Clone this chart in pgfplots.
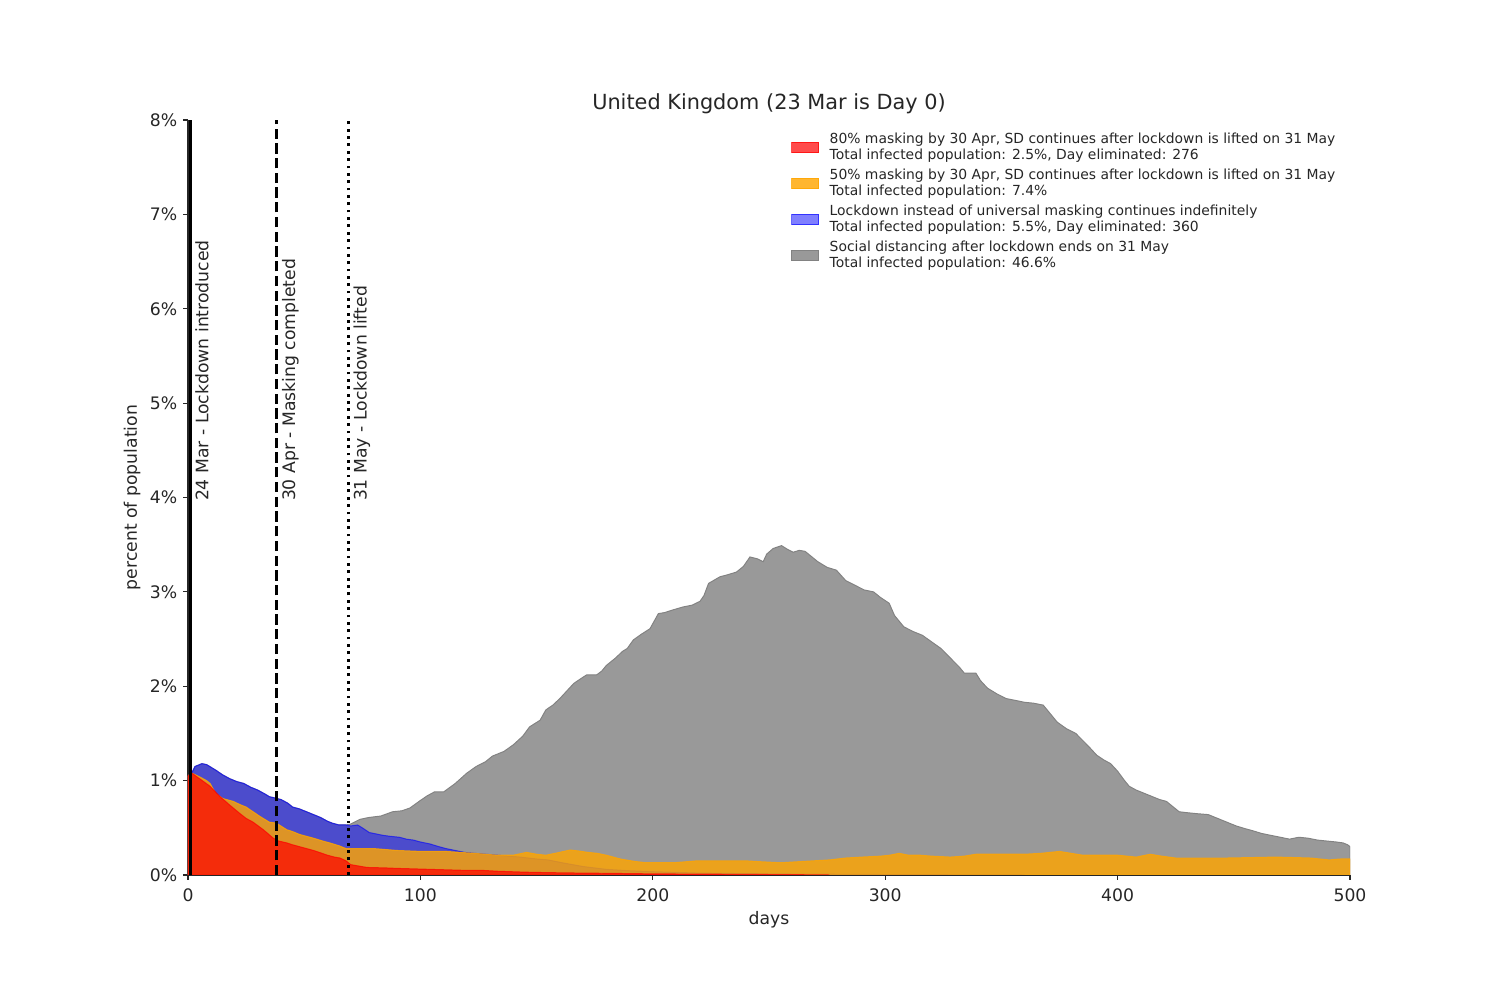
\documentclass[border=0pt]{standalone}
\usepackage{fontspec}
\setmainfont{DejaVu Sans}
\usepackage{pgfplots}
\pgfplotsset{compat=1.18}
\definecolor{txt}{RGB}{38,38,38}
\definecolor{greyfill}{RGB}{153,153,153}
\definecolor{greyedge}{RGB}{130,130,130}
\definecolor{mblue}{RGB}{0,0,255}
\definecolor{morange}{RGB}{255,165,0}
\definecolor{mred}{RGB}{255,0,0}
\begin{document}
\begin{tikzpicture}
\begin{axis}[
  width=836.64pt, height=543.6pt, scale only axis,
  xmin=0, xmax=500, ymin=0, ymax=8,
  axis lines=left, axis line style={-, txt, line width=0.8pt},
  tick style={txt, line width=0.8pt},
  tick align=outside, major tick length=3.5pt,
  xtick={0,100,...,500}, ytick={0,...,8},
  yticklabels={0\%,1\%,2\%,3\%,4\%,5\%,6\%,7\%,8\%},
  ticklabel style={font=\fontsize{12.4}{14}\selectfont, text=txt},
  xticklabel style={yshift=-2.9pt},
  yticklabel style={xshift=-0.7pt},
  /pgf/number format/assume math mode=true,
  xlabel={days}, ylabel={percent of population},
  label style={font=\fontsize{12.4}{14}\selectfont, text=txt},
  title={United Kingdom (23 Mar is Day 0)},
  title style={font=\fontsize{15}{17}\selectfont, text=txt, yshift=-5pt},
  reverse legend,
  legend cell align=left,
  legend image code/.code={\fill[#1] (0pt,-3.9pt) rectangle (19.4pt,3.9pt);},
  legend style={at={(0.5189,0.9828)}, anchor=north west, draw=none, fill=none,
    font=\fontsize{10}{11.5}\selectfont, text=txt, inner sep=0pt, row sep=5.3pt,
    nodes={inner sep=0pt}, cells={align=left},
    /tikz/every odd column/.append style={column sep=7.6pt}},
]
% Social distancing (grey)
\addplot[draw=greyedge, fill=greyfill, line width=0.7pt] coordinates {
(0,1.05) (1.6,1.08) (3,1.15) (6,1.18) (8,1.17) (12,1.11) (15,1.06) (18,1.02) (21,0.99) (24,0.97) (27,0.93) (30,0.90) (33,0.86) (35,0.83) (40,0.80) (43,0.76) (45,0.72) (48,0.70) (51,0.67) (54,0.64) (57,0.61) (60,0.57) (62,0.55) (65,0.53) (68,0.53) (70,0.54)
(74,0.59) (78,0.61) (83,0.625) (88,0.67) (92,0.68) (95.5,0.71) (100,0.79) (103,0.84) (106,0.88) (110,0.88) (115,0.97) (120,1.08) (124,1.15) (128,1.20) (131,1.26) (136,1.31) (140,1.38) (144,1.47) (147,1.57) (151.5,1.64) (154,1.75) (157,1.80) (160,1.87) (163,1.95) (166,2.03) (169,2.08) (171.5,2.12) (175.8,2.12) (178,2.16) (180,2.22) (184,2.30) (187,2.37) (189,2.40) (191.6,2.49) (195,2.55) (198.8,2.61) (202.4,2.77) (205,2.78) (208.8,2.81) (213,2.84) (217,2.86) (220.3,2.90) (222,2.96) (224,3.09) (228.9,3.16) (232,3.18) (236,3.21) (239,3.27) (241.8,3.37) (245,3.35) (247.5,3.32) (249,3.40) (251.8,3.46) (255.4,3.49) (258,3.45) (260.4,3.42) (263,3.44) (265.5,3.43) (268,3.38) (271,3.32) (275,3.26) (279,3.23) (283,3.12) (287,3.07) (291,3.02) (295,3.00) (298,2.94) (301.7,2.88) (304,2.75) (308,2.63) (312,2.58) (316,2.54) (320,2.47) (324,2.40) (328,2.30) (332,2.20) (334,2.14) (339,2.14) (341,2.06) (344,1.98) (348,1.92) (352,1.87) (356,1.85) (360,1.83) (364,1.82) (368,1.80) (370,1.74) (374,1.62) (378,1.55) (382,1.50) (384,1.45) (388,1.35) (391,1.27) (394,1.22) (397,1.18) (400,1.10) (403,1.00) (405,0.94) (408,0.90) (412,0.86) (415,0.83) (418,0.80) (421,0.78) (424,0.72) (426.5,0.67) (430,0.66) (434,0.65) (439,0.64) (443,0.60) (447,0.56) (451,0.52) (455,0.49) (458,0.47) (462,0.44) (466,0.42) (470,0.40) (474,0.38) (478,0.40) (482,0.39) (486,0.37) (490,0.36) (494,0.35) (497,0.34) (499,0.32) (500,0.30)
} \closedcycle;
\addlegendentry{Social distancing after lockdown ends on 31 May\\Total infected population: 46.6\%}
% Lockdown (blue)
\addplot[draw=mblue, fill=mblue, fill opacity=0.5, draw opacity=0.6, line width=0.7pt] coordinates {
(0,1.05) (1.6,1.08) (3,1.15) (6,1.18) (8,1.17) (12,1.11) (15,1.06) (18,1.02) (21,0.99) (24,0.97) (27,0.93) (30,0.90) (33,0.86) (35,0.83) (40,0.80) (43,0.76) (45,0.72) (48,0.70) (51,0.67) (54,0.64) (57,0.61) (60,0.57) (62,0.55) (65,0.53) (68,0.53) (70,0.52) (73,0.53) (75,0.50) (78,0.45) (80,0.44) (84,0.42) (87,0.41) (91,0.40) (94,0.38) (97,0.37) (100,0.35) (104,0.33) (108,0.30) (111,0.28) (115,0.26) (119,0.24) (123,0.23) (128,0.22) (133,0.21) (138,0.20) (143,0.19) (150,0.17) (155,0.16) (161,0.13) (170,0.09) (180,0.06) (190,0.045) (200,0.035) (220,0.02) (250,0.012) (300,0.005) (360,0)
} \closedcycle;
\addlegendentry{Lockdown instead of universal masking continues indefinitely\\Total infected population: 5.5\%, Day eliminated: 360}
% 50% masking (orange)
\addplot[draw=morange, fill=morange, fill opacity=0.81, draw opacity=0.81, line width=0.7pt] coordinates {
(0,1.05) (1.6,1.08) (5,1.04) (8,1.00) (9.5,0.97) (12,0.86) (15,0.81) (19.5,0.78) (22,0.75) (25,0.72) (28,0.67) (31,0.62) (35,0.56) (38,0.55) (42.5,0.48) (45,0.46) (48,0.43) (51,0.41) (54,0.39) (58,0.36) (61,0.34) (65,0.31) (68,0.28) (72,0.28) (76,0.28) (80,0.28) (85,0.27) (90,0.26) (95,0.255) (100,0.25) (106,0.25) (111,0.25) (117,0.24) (123,0.23) (128,0.22) (133,0.21) (140,0.21) (145.7,0.24) (150,0.22) (154,0.21) (158,0.23) (164.4,0.265) (168,0.255) (172,0.24) (176,0.23) (180,0.21) (186,0.17) (192,0.145) (197,0.13) (203,0.13) (209,0.13) (214,0.14) (219,0.15) (225,0.15) (232,0.15) (240,0.15) (247,0.14) (255,0.13) (262,0.14) (269,0.15) (276,0.16) (283,0.18) (290,0.19) (298,0.20) (302,0.21) (306,0.23) (310,0.21) (315,0.21) (320,0.20) (328,0.19) (334,0.20) (339,0.22) (346,0.22) (354,0.22) (360,0.22) (367,0.23) (375,0.25) (380,0.23) (385,0.21) (392,0.21) (400,0.21) (408,0.19) (414,0.22) (419,0.20) (425,0.18) (435,0.18) (447,0.18) (458,0.185) (468,0.19) (476,0.185) (483,0.18) (491,0.16) (496,0.17) (500,0.17)
} \closedcycle;
\addlegendentry{50\% masking by 30 Apr, SD continues after lockdown is lifted on 31 May\\Total infected population: 7.4\%}
% 80% masking (red)
\addplot[draw=mred, fill=mred, fill opacity=0.7, draw opacity=0.7, line width=0.7pt] coordinates {
(0,1.05) (1.6,1.08) (5,1.02) (9.5,0.94) (13.8,0.83) (18,0.74) (22.4,0.65) (25,0.60) (28,0.56) (32.4,0.48) (36.7,0.39) (39,0.36) (42.5,0.34) (45,0.32) (48,0.30) (51,0.28) (54,0.26) (57,0.235) (60,0.21) (63,0.19) (65.4,0.18) (68,0.15) (70,0.11) (77,0.08) (85,0.075) (90,0.07) (104,0.06) (118,0.05) (126,0.05) (133,0.04) (145,0.03) (155,0.025) (170,0.02) (180,0.018) (200,0.012) (230,0.008) (260,0.004) (276,0)
} \closedcycle;
\addlegendentry{80\% masking by 30 Apr, SD continues after lockdown is lifted on 31 May\\Total infected population: 2.5\%, Day eliminated: 276}
% event lines
\addplot[forget plot, black, line width=2pt] coordinates {(1,0) (1,8)};
\addplot[forget plot, black, line width=2pt, dash pattern=on 7.4pt off 3.2pt] coordinates {(38,0) (38,8)};
\addplot[forget plot, black, line width=2pt, dash pattern=on 2pt off 3.3pt] coordinates {(69,0) (69,8)};
\node[rotate=90, anchor=north west, inner sep=0pt, font=\fontsize{12.4}{14}\selectfont, text=txt] at (axis cs:3.0,3.96) {24 Mar - Lockdown introduced};
\node[rotate=90, anchor=north west, inner sep=0pt, font=\fontsize{12.4}{14}\selectfont, text=txt] at (axis cs:40.3,3.96) {30 Apr - Masking completed};
\node[rotate=90, anchor=north west, inner sep=0pt, font=\fontsize{12.4}{14}\selectfont, text=txt] at (axis cs:71.1,3.96) {31 May - Lockdown lifted};
\end{axis}
\pgfresetboundingbox
\path[use as bounding box] (current axis.origin) ++(-135.36pt,-90pt) rectangle ++(1080pt,720pt);
\end{tikzpicture}
\end{document}
